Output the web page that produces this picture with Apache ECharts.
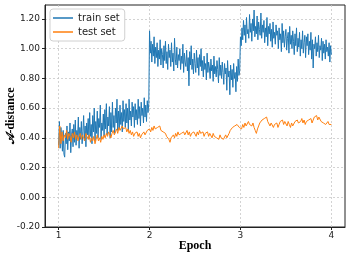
<!DOCTYPE html>
<html>
<head>
<meta charset="utf-8">
<script src="https://cdn.jsdelivr.net/npm/echarts@6/dist/echarts.min.js"></script>
<style>html,body{margin:0;padding:0;background:#fff}#c{width:349px;height:258px}</style>
</head>
<body>
<div id="c"></div>
<script>
// Tick labels
const xTicks = [1, 2, 3, 4];
const yTicks = [-0.2, 0, 0.2, 0.4, 0.6, 0.8, 1.0, 1.2];

// train set: 120 samples per epoch, starting at epoch 1
const trainEpoch1 = [
  0.35,0.51,0.33,0.47,0.40,0.31,0.45,0.29,0.27,0.43,
  0.36,0.48,0.32,0.44,0.38,0.50,0.30,0.42,0.46,0.34,
  0.49,0.37,0.52,0.35,0.45,0.40,0.54,0.33,0.47,0.39,
  0.51,0.36,0.44,0.55,0.38,0.48,0.34,0.50,0.42,0.53,
  0.39,0.57,0.41,0.49,0.36,0.55,0.44,0.60,0.38,0.51,
  0.43,0.58,0.40,0.53,0.47,0.62,0.39,0.50,0.45,0.56,
  0.41,0.59,0.46,0.63,0.42,0.54,0.48,0.61,0.40,0.57,
  0.44,0.64,0.47,0.55,0.43,0.60,0.50,0.66,0.45,0.58,
  0.46,0.62,0.49,0.57,0.44,0.65,0.51,0.59,0.47,0.63,
  0.50,0.60,0.45,0.66,0.52,0.58,0.48,0.64,0.54,0.61,
  0.47,0.63,0.52,0.59,0.49,0.66,0.53,0.61,0.48,0.64,
  0.55,0.60,0.50,0.67,0.54,0.62,0.51,0.65,0.57,0.63];
const trainEpoch2 = [
  1.12,0.97,1.05,0.91,1.03,0.95,1.08,0.90,1.01,0.94,
  1.04,0.88,0.99,0.93,1.06,0.89,1.00,0.96,0.87,1.02,
  0.92,1.05,0.90,0.98,0.86,1.03,0.94,0.99,0.88,1.04,
  0.91,0.97,0.85,1.07,0.93,0.89,1.01,0.87,0.96,0.92,
  1.00,0.86,0.95,0.90,1.03,0.84,0.97,0.91,0.88,0.99,
  0.85,0.94,0.75,0.98,0.89,1.02,0.86,0.93,0.83,0.97,
  0.90,0.84,0.99,0.87,0.94,0.82,0.96,0.88,1.00,0.85,
  0.92,0.81,0.95,0.86,0.90,0.79,0.97,0.84,0.91,0.87,
  0.80,0.93,0.85,0.89,0.78,0.95,0.83,0.88,0.81,0.92,
  0.86,0.77,0.94,0.82,0.89,0.80,0.91,0.84,0.76,0.90,
  0.83,0.87,0.72,0.92,0.81,0.85,0.69,0.89,0.79,0.86,
  0.74,0.90,0.80,0.84,0.71,0.88,0.78,0.93,0.82,0.85];
const trainEpoch3 = [
  1.08,1.02,1.14,1.06,1.19,1.09,1.16,1.04,1.21,1.10,
  1.13,1.07,1.23,1.11,1.17,1.05,1.20,1.12,1.26,1.08,
  1.15,1.10,1.22,1.06,1.18,1.13,1.09,1.24,1.07,1.16,
  1.11,1.19,1.04,1.14,1.08,1.21,1.02,1.15,1.10,1.17,
  1.05,1.13,1.01,1.18,1.07,1.11,1.03,1.16,1.09,1.12,
  1.00,1.14,1.06,1.10,0.98,1.17,1.04,1.12,1.01,1.08,
  1.13,0.99,1.07,1.11,0.97,1.15,1.03,1.09,1.00,1.12,
  1.05,0.96,1.10,1.02,1.14,0.98,1.07,1.01,1.11,0.95,
  1.06,1.00,1.12,0.97,1.04,1.09,0.94,1.08,1.02,1.10,
  0.96,1.05,0.99,1.11,0.93,1.06,0.87,1.03,1.00,1.08,
  0.95,1.04,0.98,1.09,0.94,1.02,0.99,1.07,0.92,1.05,
  0.97,1.03,0.93,1.06,0.98,1.01,0.95,1.04,0.91,1.02,
  0.96];

// test set: 80 samples per epoch
const testEpoch1 = [
  0.33,0.48,0.36,0.44,0.38,0.42,0.40,0.45,0.39,0.43,
  0.41,0.37,0.43,0.40,0.44,0.39,0.42,0.38,0.41,0.43,
  0.39,0.42,0.40,0.38,0.43,0.41,0.39,0.42,0.37,0.40,
  0.38,0.41,0.36,0.39,0.42,0.38,0.40,0.37,0.41,0.39,
  0.42,0.40,0.43,0.41,0.44,0.42,0.40,0.43,0.45,0.42,
  0.44,0.46,0.43,0.47,0.45,0.44,0.48,0.46,0.45,0.47,
  0.44,0.46,0.43,0.45,0.42,0.44,0.41,0.43,0.42,0.44,
  0.41,0.43,0.40,0.42,0.41,0.44,0.42,0.43,0.45,0.44];
const testEpoch2 = [
  0.46,0.44,0.47,0.45,0.48,0.46,0.45,0.47,0.46,0.48,
  0.45,0.46,0.44,0.45,0.43,0.41,0.42,0.39,0.37,0.40,
  0.39,0.42,0.40,0.43,0.41,0.44,0.42,0.41,0.43,0.42,
  0.44,0.42,0.43,0.45,0.42,0.44,0.41,0.43,0.42,0.44,
  0.43,0.41,0.44,0.42,0.45,0.43,0.42,0.44,0.41,0.43,
  0.42,0.44,0.41,0.43,0.42,0.40,0.43,0.41,0.42,0.40,
  0.41,0.39,0.42,0.40,0.41,0.39,0.40,0.42,0.40,0.41,
  0.43,0.45,0.44,0.47,0.46,0.48,0.47,0.49,0.48,0.47];
const testEpoch3 = [
  0.48,0.46,0.49,0.47,0.50,0.48,0.49,0.51,0.49,0.50,
  0.48,0.50,0.47,0.45,0.43,0.46,0.48,0.50,0.49,0.52,
  0.51,0.53,0.52,0.54,0.51,0.50,0.48,0.50,0.49,0.47,
  0.49,0.48,0.50,0.47,0.49,0.51,0.50,0.52,0.49,0.51,
  0.50,0.48,0.51,0.49,0.47,0.50,0.48,0.49,0.51,0.50,
  0.52,0.50,0.49,0.51,0.53,0.50,0.52,0.49,0.51,0.50,
  0.52,0.51,0.53,0.50,0.52,0.54,0.53,0.55,0.52,0.54,
  0.53,0.51,0.52,0.50,0.51,0.49,0.50,0.51,0.49,0.50,
  0.49];

function toPairs(values, perEpoch, start) {
  return values.map((v, i) => [start + i / perEpoch, v]);
}
const trainData = toPairs(trainEpoch1.concat(trainEpoch2, trainEpoch3), 120, 1);
const testData = toPairs(testEpoch1.concat(testEpoch2, testEpoch3), 80, 1);

const chart = echarts.init(document.getElementById('c'), null, {renderer: 'canvas'});
const gridLine = {show: true, lineStyle: {color: '#c8c8c8', type: [2, 2], width: 0.8}};
chart.setOption({
  animation: false,
  grid: {left: 45, right: 4, top: 5, bottom: 31, outerBoundsMode: 'none', containLabel: false,
         show: true, borderColor: '#222', borderWidth: 1, backgroundColor: 'transparent'},
  legend: {
    orient: 'vertical', left: 50, top: 9,
    icon: 'rect',
    itemWidth: 20, itemHeight: 1.5, itemGap: 2,
    padding: [3, 5, 3, 3],
    borderColor: '#d0d0d0', borderWidth: 1, borderRadius: 3, backgroundColor: '#fff',
    textStyle: {fontFamily: 'DejaVu Sans', fontSize: 10, color: '#222', lineHeight: 12},
    data: ['train set', 'test set']
  },
  xAxis: {
    type: 'value', min: 0.85, max: 4.15,
    name: 'Epoch', nameLocation: 'middle', nameGap: 13, nameMoveOverlap: false,
    nameTextStyle: {fontFamily: 'Liberation Serif', fontWeight: 'bold', fontSize: 12, color: '#000'},
    axisLine: {show: true, onZero: false, lineStyle: {color: '#222'}},
    axisTick: {show: true, inside: false, length: 3, customValues: xTicks, lineStyle: {color: '#222'}},
    axisLabel: {customValues: xTicks, margin: 4, fontFamily: 'DejaVu Sans', fontSize: 9, color: '#222', formatter: v => String(v)},
    splitLine: gridLine
  },
  yAxis: {
    type: 'value', min: -0.2, max: 1.294,
    name: '𝒜-distance', nameLocation: 'middle', nameGap: 28, nameMoveOverlap: false,
    nameTextStyle: {fontFamily: 'Liberation Serif', fontWeight: 'bold', fontSize: 12, color: '#000'},
    axisLine: {show: true, onZero: false, lineStyle: {color: '#222'}},
    axisTick: {show: true, inside: false, length: 3, customValues: yTicks, lineStyle: {color: '#222'}},
    axisLabel: {customValues: yTicks, margin: 5, fontFamily: 'DejaVu Sans', fontSize: 9, color: '#222', formatter: v => v.toFixed(2)},
    splitLine: gridLine
  },
  series: [
    {name: 'train set', type: 'line', data: trainData, showSymbol: false, symbol: 'none', color: '#1f77b4', lineStyle: {width: 1, color: '#1f77b4'}, z: 2},
    {name: 'test set', type: 'line', data: testData, showSymbol: false, symbol: 'none', color: '#ff7f0e', lineStyle: {width: 1, color: '#ff7f0e'}, z: 3}
  ]
});
</script>
</body>
</html>
